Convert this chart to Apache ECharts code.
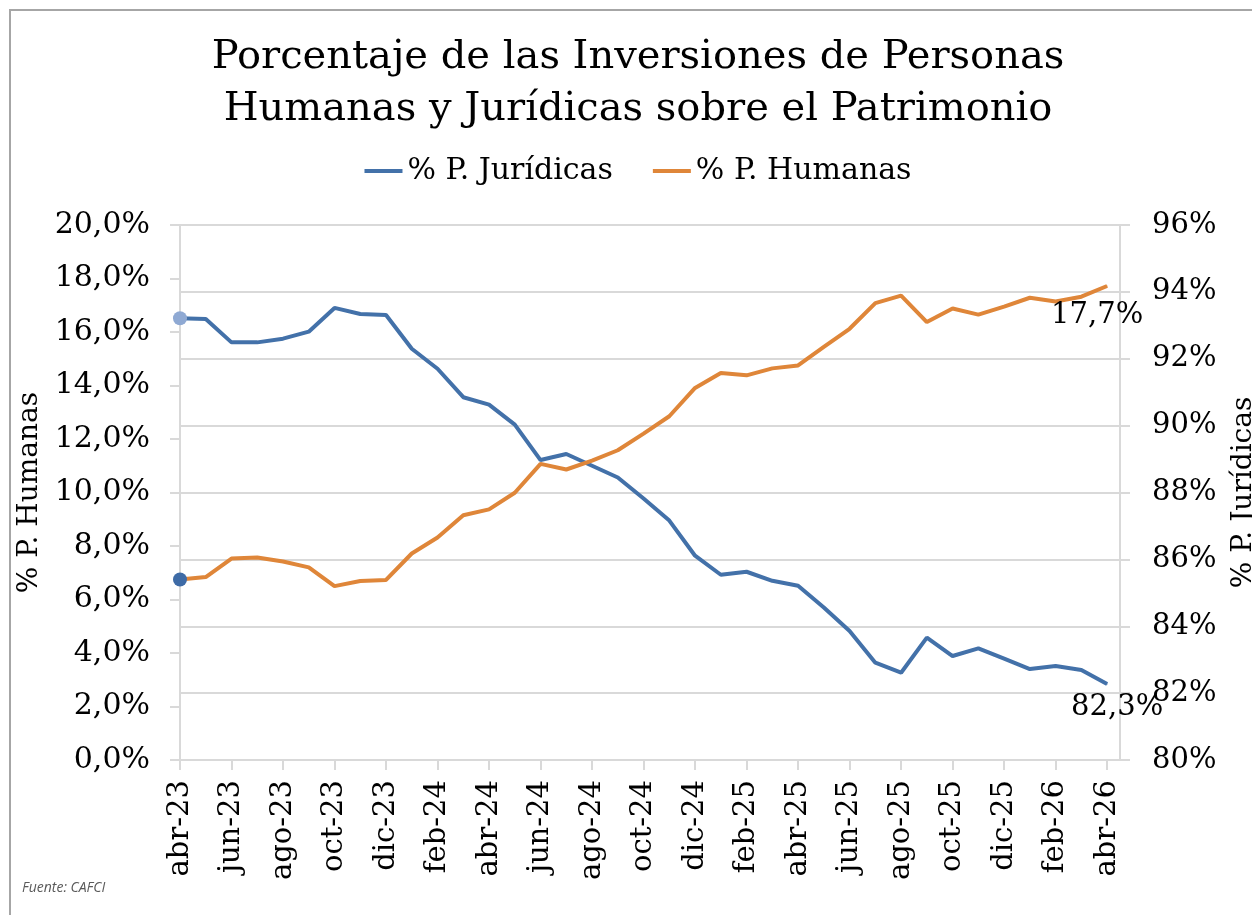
<!DOCTYPE html>
<html>
<head>
    <meta charset="utf-8">
    <title>Porcentaje de las Inversiones de Personas Humanas y Jurídicas</title>
    <script src="https://cdn.jsdelivr.net/npm/echarts@6/dist/echarts.min.js"></script>
    <style>
        html, body { margin: 0; padding: 0; overflow: hidden; background: #fff; }
        #chart { width: 1276px; height: 915px; }
    </style>
</head>
<body>
    <div id="chart"></div>
    <script>
        // meses abr-23 .. abr-26
        var meses = ['abr-23', 'may-23', 'jun-23', 'jul-23', 'ago-23', 'sep-23', 'oct-23', 'nov-23', 'dic-23',
            'ene-24', 'feb-24', 'mar-24', 'abr-24', 'may-24', 'jun-24', 'jul-24', 'ago-24', 'sep-24', 'oct-24',
            'nov-24', 'dic-24', 'ene-25', 'feb-25', 'mar-25', 'abr-25', 'may-25', 'jun-25', 'jul-25', 'ago-25',
            'sep-25', 'oct-25', 'nov-25', 'dic-25', 'ene-26', 'feb-26', 'mar-26', 'abr-26'];

        // % P. Humanas (eje izquierdo)
        var humanas = [6.75, 6.84, 7.53, 7.57, 7.42, 7.20, 6.50, 6.69, 6.73, 7.72, 8.32, 9.15, 9.37, 9.99,
            11.07, 10.86, 11.19, 11.58, 12.20, 12.85, 13.91, 14.47, 14.38, 14.64, 14.75, 15.44, 16.12, 17.08,
            17.36, 16.37, 16.88, 16.65, 16.95, 17.28, 17.14, 17.32, 17.72];

        // % P. Jurídicas (eje derecho)
        var juridicas = [93.21, 93.19, 92.49, 92.49, 92.60, 92.81, 93.52, 93.34, 93.31, 92.30, 91.70, 90.85,
            90.63, 90.03, 88.97, 89.15, 88.80, 88.45, 87.82, 87.16, 86.11, 85.54, 85.63, 85.36, 85.21, 84.56,
            83.86, 82.91, 82.61, 83.66, 83.11, 83.34, 83.03, 82.72, 82.81, 82.69, 82.27];

        var fuente = "'DejaVu Serif', serif";
        var azul = '#4371a9';
        var naranja = '#df8639';
        var gris = '#d9d9d9';

        function coma(v, dec) {
            return v.toFixed(dec).replace('.', ',') + '%';
        }

        // primer punto con marcador, último con etiqueta
        function armar(valores, colorPunto, etiqueta) {
            var n = valores.length;
            return valores.map(function (v, i) {
                var item = { value: [i, v] };
                if (i === 0) {
                    item.symbol = 'circle';
                    item.symbolSize = 14;
                    item.itemStyle = { color: colorPunto };
                }
                if (i === n - 1) {
                    item.symbol = 'circle';
                    item.symbolSize = 1;
                    item.label = etiqueta;
                }
                return item;
            });
        }

        var myChart = echarts.init(document.getElementById('chart'));

        var option = {
            animation: false,
            textStyle: { fontFamily: fuente },
            title: {
                text: 'Porcentaje de las Inversiones de Personas\nHumanas y Jurídicas sobre el Patrimonio',
                left: 'center',
                top: 27,
                textStyle: { fontFamily: fuente, fontSize: 40, fontWeight: 'normal', color: '#000', lineHeight: 52 }
            },
            legend: {
                top: 151,
                left: 'center',
                icon: 'rect',
                itemWidth: 38,
                itemHeight: 4,
                itemGap: 40,
                textStyle: { fontFamily: fuente, fontSize: 30, color: '#000' },
                data: ['% P. Jurídicas', '% P. Humanas']
            },
            grid: { left: 180, top: 225, width: 940, height: 535 },
            xAxis: {
                type: 'value',
                min: 0,
                max: 36.5,
                interval: 2,
                axisLine: { show: true, lineStyle: { color: gris, width: 2 } },
                axisTick: { show: true, length: 10, lineStyle: { color: gris, width: 2 } },
                splitLine: { show: false },
                axisLabel: {
                    rotate: 90,
                    margin: 20,
                    fontFamily: fuente,
                    fontSize: 29,
                    color: '#000',
                    showMaxLabel: false,
                    formatter: function (v) {
                        return (Number.isInteger(v) && meses[v]) ? meses[v] : '';
                    }
                }
            },
            yAxis: [{
                type: 'value',
                position: 'left',
                min: 0,
                max: 20,
                interval: 2,
                name: '% P. Humanas',
                nameLocation: 'middle',
                nameGap: 128,
                nameTextStyle: { fontFamily: fuente, fontSize: 28, color: '#000' },
                axisLine: { show: true, lineStyle: { color: gris, width: 2 } },
                axisTick: { show: true, length: 10, lineStyle: { color: gris, width: 2 } },
                splitLine: { show: false },
                axisLabel: {
                    margin: 30,
                    fontFamily: fuente,
                    fontSize: 30,
                    color: '#000',
                    formatter: function (v) { return coma(v, 1); }
                }
            }, {
                type: 'value',
                position: 'right',
                min: 80,
                max: 96,
                interval: 2,
                name: '% P. Jurídicas',
                nameLocation: 'middle',
                nameGap: 110,
                nameTextStyle: { fontFamily: fuente, fontSize: 28, color: '#000' },
                axisLine: { show: true, lineStyle: { color: gris, width: 2 } },
                axisTick: { show: true, length: 10, lineStyle: { color: gris, width: 2 } },
                splitLine: { show: true, lineStyle: { color: gris, width: 2 } },
                axisLabel: {
                    margin: 32,
                    fontFamily: fuente,
                    fontSize: 29,
                    color: '#000',
                    formatter: function (v) { return v + '%'; }
                }
            }],
            series: [
                {
                    name: '% P. Jurídicas',
                    type: 'line',
                    yAxisIndex: 1,
                    symbol: 'none',
                    color: azul,
                    lineStyle: { color: azul, width: 4 },
                    data: armar(juridicas, '#8fa9d3', {
                        show: true,
                        position: 'bottom',
                        distance: 8,
                        offset: [10, 0],
                        fontFamily: fuente,
                        fontSize: 29,
                        color: '#000',
                        formatter: function (p) { return coma(p.value[1], 1); }
                    })
                },
                {
                    name: '% P. Humanas',
                    type: 'line',
                    yAxisIndex: 0,
                    symbol: 'none',
                    color: naranja,
                    lineStyle: { color: naranja, width: 4 },
                    data: armar(humanas, '#3e6ba6', {
                        show: true,
                        position: 'bottom',
                        distance: 14,
                        offset: [-10, 0],
                        fontFamily: fuente,
                        fontSize: 29,
                        color: '#000',
                        formatter: function (p) { return coma(p.value[1], 1); }
                    })
                }
            ],
            graphic: [
                {
                    type: 'rect',
                    shape: { x: 10, y: 10, width: 1400, height: 1000 },
                    style: { fill: 'none', stroke: '#a6a6a6', lineWidth: 2 },
                    silent: true
                },
                {
                    type: 'text',
                    left: 22,
                    top: 881,
                    style: {
                        text: 'Fuente: CAFCI',
                        fill: '#595959',
                        font: 'italic 14px "Open Sans", sans-serif'
                    }
                }
            ]
        };

        myChart.setOption(option);
    </script>
</body>
</html>
